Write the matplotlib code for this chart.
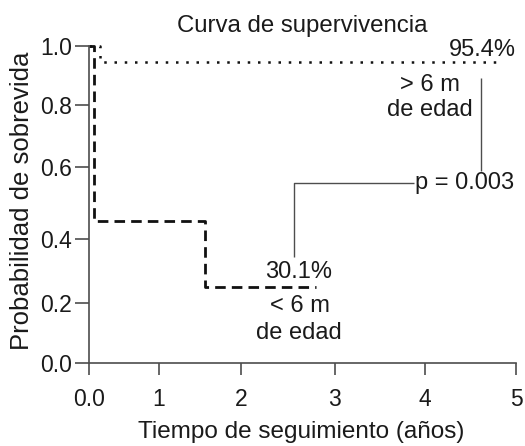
import numpy as np
import matplotlib
matplotlib.use("Agg")
import matplotlib.pyplot as plt

# ---------------- data ----------------
titulo = "Curva de supervivencia"
eje_x = "Tiempo de seguimiento (años)"
eje_y = "Probabilidad de sobrevida"

x_ticks = [0, 1, 2, 3, 4, 5]
x_tick_labels = ["0.0", "1", "2", "3", "4", "5"]
y_ticks = [0.0, 0.2, 0.4, 0.6, 0.8, 1.0]
y_tick_labels = ["0.0", "0.2", "0.4", "0.6", "0.8", "1.0"]

# irregular axis spacing as drawn in the reference (pixel distance of each tick)
x_tick_px = [0, 70, 151.7, 245.7, 336.3, 427]
y_tick_px = [0, 59.4, 123.7, 195.4, 257.7, 317]

# < 6 months group (dashed)
t_menor = [0.0, 0.076, 1.563, 2.80]
s_menor = [1.0, 0.45, 0.252, 0.252]
# > 6 months group (dotted)
t_mayor = [0.0, 0.157, 4.857]
s_mayor = [1.0, 0.944, 0.944]

pct_mayor = "95.4%"
pct_menor = "30.1%"
grupo_mayor = ["> 6 m", "de edad"]
grupo_menor = ["< 6 m", "de edad"]
p_valor = "p = 0.003"

# ---------------- helpers ----------------
def piecewise(src, dst):
    src = np.asarray(src, float)
    dst = np.asarray(dst, float)

    def f(v):
        v = np.asarray(v, float)
        out = np.interp(v, src, dst)
        lo = v < src[0]
        hi = v > src[-1]
        out = np.where(lo, dst[0] + (v - src[0]) * (dst[1] - dst[0]) / (src[1] - src[0]), out)
        out = np.where(hi, dst[-1] + (v - src[-1]) * (dst[-1] - dst[-2]) / (src[-1] - src[-2]), out)
        return out
    return f

plt.rcParams["font.family"] = ["Liberation Sans", "DejaVu Sans"]
TXT = "#1a1a1a"
SP = "#4d4d4d"

W, H = 525, 446
fig = plt.figure(figsize=(W / 100, H / 100), dpi=100)
ax = fig.add_axes([89 / W, (H - 362.7) / H, 427 / W, 317 / H])

ax.set_xscale("function", functions=(piecewise(x_ticks, x_tick_px), piecewise(x_tick_px, x_ticks)))
ax.set_yscale("function", functions=(piecewise(y_ticks, y_tick_px), piecewise(y_tick_px, y_ticks)))
ax.set_xlim(0, 5)
ax.set_ylim(0, 1.0)

# curves
ax.plot(t_menor, s_menor, drawstyle="steps-post", color="#111111", lw=2.0,
        dashes=(3.8, 2.2), clip_on=False, solid_capstyle="butt", dash_capstyle="butt")
ax.plot(t_mayor, s_mayor, drawstyle="steps-post", color="#111111", lw=1.8,
        dashes=(1, 3.1), clip_on=False, dash_capstyle="butt")

# spines / ticks
for s in ["top", "right"]:
    ax.spines[s].set_visible(False)
for s in ["left", "bottom"]:
    ax.spines[s].set_color(SP)
    ax.spines[s].set_linewidth(1.2)

ax.set_xticks(x_ticks)
ax.set_xticklabels(x_tick_labels)
ax.set_yticks(y_ticks)
ax.set_yticklabels(y_tick_labels)
ax.minorticks_off()
ax.tick_params(axis="x", direction="out", length=8.6, width=1.2, color=SP,
               labelsize=16.5, labelcolor=TXT, pad=9.5)
ax.tick_params(axis="y", direction="out", length=10, width=1.2, color=SP,
               labelsize=16.5, labelcolor=TXT, pad=2.5)

# labels
ax.set_xlabel(eje_x, fontsize=17.5, color=TXT)
ax.xaxis.label.set_va("baseline")
ax.xaxis.set_label_coords(0.4965, -0.2375)
ax.set_ylabel(eje_y, fontsize=18.5, color=TXT)
ax.yaxis.label.set_va("center")
ax.yaxis.set_label_coords(-0.157, 0.51)

fig.text(302 / W, 1 - 31.7 / H, titulo, ha="center", va="baseline", fontsize=17.3, color=TXT)

# annotations
fs = 17
ax.text(5.0, 0.985, pct_mayor, ha="right", va="center", fontsize=fs, color=TXT)
ax.text(4.05, 0.867, grupo_mayor[0], ha="center", va="center", fontsize=fs, color=TXT)
ax.text(4.05, 0.784, grupo_mayor[1], ha="center", va="center", fontsize=fs, color=TXT)
ax.text(2.62, 0.297, pct_menor, ha="center", va="center", fontsize=fs, color=TXT)
ax.text(2.63, 0.191, grupo_menor[0], ha="center", va="center", fontsize=fs, color=TXT)
ax.text(2.62, 0.100, grupo_menor[1], ha="center", va="center", fontsize=fs, color=TXT)
ax.text(3.885, 0.556, p_valor, ha="left", va="center", fontsize=fs, color=TXT)

# connector lines to p value
ax.plot([2.572, 2.572, 3.875], [0.343, 0.556, 0.556], color=SP, lw=1.0, solid_capstyle="butt")
ax.plot([4.614, 4.614], [0.590, 0.891], color=SP, lw=1.0, solid_capstyle="butt")

fig.savefig("out.png", dpi=100)
